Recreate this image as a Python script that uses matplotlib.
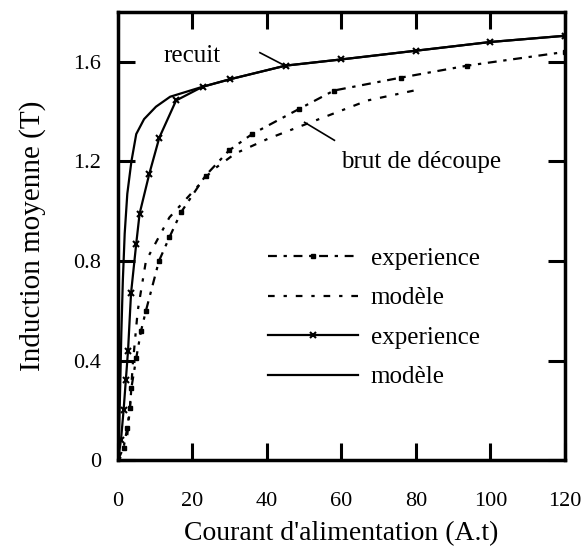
import matplotlib
matplotlib.use("Agg")
import matplotlib.pyplot as plt

plt.rcParams['font.family'] = ['Liberation Serif', 'DejaVu Serif']

# courbes : I (A.t), B (T)
recuit_model_I = [0, 0.3, 0.6, 0.9, 1.3, 1.8, 2.5, 3.6, 4.9, 7, 10.2, 14, 22.7, 30, 45, 60, 80, 100, 120]
recuit_model_B = [0, 0.12, 0.3, 0.51, 0.72, 0.91, 1.07, 1.2, 1.31, 1.37, 1.42, 1.46, 1.50, 1.53, 1.585, 1.61, 1.645, 1.68, 1.705]

recuit_exp_I = [0, 0.8, 1.5, 2.1, 2.7, 3.5, 4.9, 5.8, 8.4, 11.1, 15.6, 22.7, 30, 45, 60, 80, 100, 120]
recuit_exp_B = [0, 0.08, 0.2, 0.32, 0.44, 0.67, 0.87, 0.99, 1.15, 1.296, 1.445, 1.50, 1.53, 1.585, 1.61, 1.645, 1.68, 1.705]

brut_exp_I = [0, 1.5, 2.5, 3.2, 3.6, 4.9, 6.2, 7.5, 11, 13.8, 16.9, 23.5, 29.8, 36, 48.5, 58, 76, 93.8, 120]
brut_exp_B = [0, 0.05, 0.13, 0.21, 0.29, 0.41, 0.52, 0.60, 0.80, 0.895, 0.995, 1.143, 1.244, 1.31, 1.41, 1.485, 1.537, 1.585, 1.64]

brut_model_I = [2.5, 3.2, 4.0, 5.3, 7.5, 13.8, 25.3, 31.5, 40.4, 51, 67, 79.5]
brut_model_B = [0.1, 0.21, 0.39, 0.6, 0.8, 0.975, 1.164, 1.232, 1.292, 1.353, 1.445, 1.485]

fig = plt.figure(figsize=(5.87, 5.51), dpi=100)
ax = fig.add_axes([0.201, 0.165, 0.7615, 0.813])

l1, = ax.plot(brut_exp_I, brut_exp_B, color='k', lw=1.6, dashes=(4, 3, 1.5, 3),
              marker='s', ms=3.5)
l2, = ax.plot(brut_model_I, brut_model_B, color='k', lw=1.6, dashes=(3, 4, 1.5, 4))
l3, = ax.plot(recuit_exp_I, recuit_exp_B, color='k', lw=1.6, marker='x', ms=4, mew=1.5)
l4, = ax.plot(recuit_model_I, recuit_model_B, color='k', lw=1.6)

ax.set_xlim(0, 120)
ax.set_ylim(0, 1.8)
ax.set_xticks([0, 20, 40, 60, 80, 100, 120])
ax.set_yticks([0, 0.4, 0.8, 1.2, 1.6])
ax.set_yticklabels(['0', '0.4', '0.8', '1.2', '1.6'])
ax.tick_params(direction='in', top=True, right=True, length=12, width=2.2,
               labelsize=16)
ax.tick_params(axis='x', pad=23)
ax.tick_params(axis='y', pad=12)
for s in ax.spines.values():
    s.set_linewidth(2.5)

ax.set_xlabel("Courant d'alimentation (A.t)", fontsize=20, labelpad=7)
ax.set_ylabel("Induction moyenne (T)", fontsize=21, labelpad=20)

# annotations
ax.text(20, 1.625, "recuit", fontsize=18, ha='center', va='center')
ax.plot([38.1, 44.8], [1.637, 1.585], color='k', lw=1.2)
ax.text(60, 1.197, "brut de découpe", fontsize=18, ha='left', va='center')
ax.plot([50.1, 58.1], [1.357, 1.285], color='k', lw=1.2)

ax.legend([l1, l2, l3, l4], ['experience', 'modèle', 'experience', 'modèle'],
          loc='upper left', bbox_to_anchor=(0.336, 0.475), frameon=False,
          fontsize=18, handlelength=3.6, handletextpad=0.5, labelspacing=0.68,
          numpoints=1, borderpad=0, borderaxespad=0)

fig.savefig("out.png", dpi=100)
